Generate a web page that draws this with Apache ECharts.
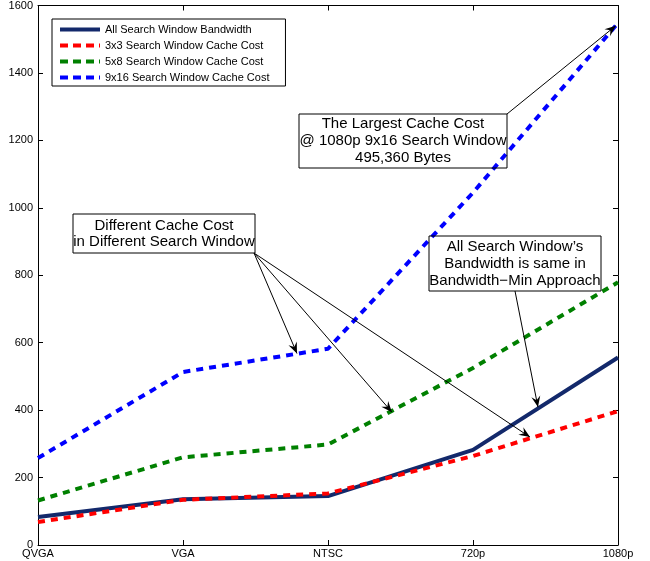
<!DOCTYPE html>
<html><head><meta charset="utf-8">
<script src="https://cdn.jsdelivr.net/npm/echarts@6/dist/echarts.min.js"></script>
<style>html,body{margin:0;padding:0;background:#fff}#c{width:650px;height:561px}</style>
</head><body><div id="c"></div>
<script>
const categories = ['QVGA', 'VGA', 'NTSC', '720p', '1080p'];
const yTickStep = 200;
const yMax = 1600;
const seriesNames = ['All Search Window Bandwidth', '3x3 Search Window Cache Cost', '5x8 Search Window Cache Cost', '9x16 Search Window Cache Cost'];
const bandwidthAll = [83, 136, 145, 282, 556];
const cache3x3 = [68, 134, 153, 264, 397];
const cache5x8 = [132, 260, 298, 525, 779];
const cache9x16 = [258, 513, 582, 1045, 1548];

const noteLargest = ['The Largest Cache Cost', '@ 1080p 9x16 Search Window', '495,360 Bytes'];
const noteDifferent = ['Different Cache Cost', 'in Different Search Window'];
const noteSame = ['All Search Window\u2019s', 'Bandwidth is same in', 'Bandwidth\u2212Min Approach'];
const tipLargest = [[3.985, 1540]];
const tipDifferent = [[1.786, 568], [2.441, 394], [3.393, 320]];
const tipSame = [[3.448, 409]];

const FONT = 'Liberation Sans, Arial, Helvetica, sans-serif';
const chart = echarts.init(document.getElementById('c'), null, {renderer: 'canvas'});
const toPairs = arr => arr.map((v, i) => [i, v]);
const colors = ['#13296b', '#ff0000', '#008000', '#0000ff'];
const dataSets = [bandwidthAll, cache3x3, cache5x8, cache9x16];
const ICON_SOLID = 'path://M0,0H40V4H0Z';
const ICON_DASH = 'path://M0,0H8V4H0Z M13,0H21V4H13Z M26,0H34V4H26Z M39,0H40V4H39Z';

const axisCommon = {
  axisLine: {show: true, onZero: false, lineStyle: {color: '#000', width: 1}},
  axisTick: {show: true, inside: true, length: 5, lineStyle: {color: '#000'}},
  splitLine: {show: false}
};

chart.setOption({
  animation: false,
  backgroundColor: '#fff',
  grid: {left: 38, right: 32, top: 5, bottom: 16, containLabel: false},
  xAxis: [
    Object.assign({type: 'value', min: 0, max: categories.length - 1, interval: 1, position: 'bottom',
      axisLabel: {color: '#000', fontSize: 11, fontFamily: FONT, margin: 3, formatter: v => categories[v] || ''}}, axisCommon),
    Object.assign({type: 'value', min: 0, max: categories.length - 1, interval: 1, position: 'top',
      axisLabel: {show: false}}, axisCommon)
  ],
  yAxis: [
    Object.assign({type: 'value', min: 0, max: yMax, interval: yTickStep, position: 'left',
      axisLabel: {color: '#000', fontSize: 11, fontFamily: FONT, margin: 5, formatter: v => String(v)}}, axisCommon),
    Object.assign({type: 'value', min: 0, max: yMax, interval: yTickStep, position: 'right',
      axisLabel: {show: false}}, axisCommon)
  ],
  legend: {
    show: true,
    orient: 'vertical', left: 52, top: 19,
    backgroundColor: '#fff', borderColor: '#000', borderWidth: 1, borderRadius: 0,
    padding: [5, 16, 3, 8],
    itemWidth: 40, itemHeight: 4, itemGap: 5,
    symbolKeepAspect: false,
    textStyle: {color: '#000', fontSize: 11, fontFamily: FONT},
    data: seriesNames.map((n, i) => ({name: n, icon: i === 0 ? ICON_SOLID : ICON_DASH}))
  },
  series: dataSets.map((d, i) => ({
    name: seriesNames[i], type: 'line', data: toPairs(d), symbol: 'none', showSymbol: false,
    lineStyle: {color: colors[i], width: 4, type: i === 0 ? 'solid' : [7, 6], cap: 'butt'},
    itemStyle: {color: colors[i], borderWidth: 0}
  }))
});

function arrowHead(x0, y0, x1, y1) {
  const dx = x1 - x0, dy = y1 - y0, L = Math.hypot(dx, dy);
  const ux = dx / L, uy = dy / L, nx = -uy, ny = ux;
  const len = 11, hw = 4.5, notch = 7;
  return [[x1, y1], [x1 - ux * len + nx * hw, y1 - uy * len + ny * hw],
    [x1 - ux * notch, y1 - uy * notch], [x1 - ux * len - nx * hw, y1 - uy * len - ny * hw]];
}
const graphics = [];
function addArrow(start, tip) {
  const p = chart.convertToPixel({xAxisIndex: 0, yAxisIndex: 0}, tip);
  graphics.push({type: 'line', shape: {x1: start[0], y1: start[1], x2: p[0], y2: p[1]}, style: {stroke: '#000', lineWidth: 1}, z: 50});
  graphics.push({type: 'polygon', shape: {points: arrowHead(start[0], start[1], p[0], p[1])}, style: {fill: '#000'}, z: 50});
}
function addBox(x, y, w, h, lines, lh) {
  graphics.push({type: 'rect', shape: {x: x, y: y, width: w, height: h}, style: {fill: 'none', stroke: '#000', lineWidth: 1}, z: 50});
  const cy = y + h / 2;
  lines.forEach((t, i) => {
    graphics.push({type: 'text', x: x + w / 2, y: cy + (i - (lines.length - 1) / 2) * lh, z: 51,
      style: {text: t, fill: '#000', font: '15px ' + FONT, textAlign: 'center', textVerticalAlign: 'middle'}});
  });
}
addBox(299, 114, 208, 54, noteLargest, 17);
tipLargest.forEach(t => addArrow([507, 114], t));
addBox(73, 214, 182, 39, noteDifferent, 16);
tipDifferent.forEach(t => addArrow([254, 253], t));
addBox(429, 236, 172, 55, noteSame, 17);
tipSame.forEach(t => addArrow([515, 291], t));
chart.setOption({graphic: graphics});
</script></body></html>
